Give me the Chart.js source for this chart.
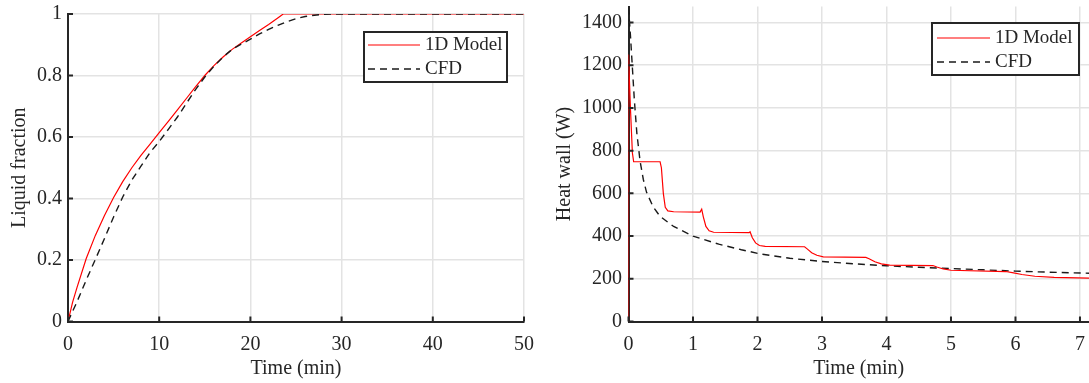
<!DOCTYPE html>
<html>
<head>
<meta charset="utf-8">
<script src="https://cdn.jsdelivr.net/npm/chart.js@4.4.1/dist/chart.umd.min.js"></script>
<style>
  html, body { margin: 0; padding: 0; background: #fff; overflow: hidden; }
  #wrap  { position: relative; width: 1089px; height: 383px; }
  .panel { position: absolute; top: 0; height: 383px; }
  #left  { left: 0;     width: 545px; }
  #right { left: 545px; width: 544px; }
</style>
</head>
<body>
<div id="wrap">
  <div class="panel" id="left"><canvas id="fracChart" width="545" height="383"></canvas></div>
  <div class="panel" id="right"><canvas id="heatChart" width="544" height="383"></canvas></div>
</div>
<script>
// ── Data: liquid fraction vs time ─────────────────────────────
const fracModelTime = [0, 0.5, 1, 2, 3, 4, 5, 6, 7, 8, 9, 10, 11, 12, 13, 14, 15, 16, 17, 18, 19, 20, 21, 22, 23, 23.6, 50];
const fracModel     = [0, 0.062, 0.112, 0.205, 0.28, 0.345, 0.403, 0.455, 0.5, 0.54, 0.577, 0.614, 0.651, 0.688, 0.726, 0.764, 0.8, 0.832, 0.86, 0.885, 0.906, 0.926, 0.946, 0.966, 0.987, 1, 1];
const fracCfdTime   = [0, 1, 2, 3, 4, 5, 6, 7, 8, 9, 10, 11, 12, 13, 14, 15, 16, 17, 18, 19, 20, 21, 22, 23, 24, 25, 26, 27, 28, 29.5, 50];
const fracCfd       = [0, 0.065, 0.135, 0.202, 0.27, 0.34, 0.405, 0.46, 0.505, 0.55, 0.585, 0.625, 0.665, 0.71, 0.755, 0.795, 0.83, 0.86, 0.885, 0.902, 0.918, 0.935, 0.95, 0.963, 0.975, 0.985, 0.992, 0.996, 0.999, 1, 1];
const fracXTicks    = [0, 10, 20, 30, 40, 50];
const fracYTicks    = [0, 0.2, 0.4, 0.6, 0.8, 1];

// ── Data: wall heat vs time ───────────────────────────────────
const heatModelTime = [0, 0, 0.03, 0.06, 0.08, 0.49, 0.51, 0.54, 0.57, 0.61, 0.7, 1.11, 1.135, 1.16, 1.2, 1.25, 1.32, 1.87, 1.885, 1.92, 1.97, 2.03, 2.12, 2.73, 2.77, 2.84, 2.92, 3.02, 3.68, 3.73, 3.82, 3.92, 4.05, 4.72, 4.78, 4.88, 5.0, 5.85, 5.95, 6.1, 6.3, 6.6, 7.14];
const heatModel     = [0, 1250, 1000, 790, 748, 748, 720, 600, 535, 518, 514, 512, 526, 490, 445, 425, 418, 416, 420, 392, 368, 356, 352, 350, 340, 322, 310, 303, 300, 294, 280, 270, 264, 262, 255, 246, 240, 234, 229, 220, 212, 207, 203];
const heatCfdTime   = [0, 0.03, 0.06, 0.09, 0.13, 0.18, 0.23, 0.28, 0.38, 0.49, 0.7, 1.0, 1.4, 1.75, 2.05, 2.5, 3.0, 3.5, 4.0, 4.5, 5.0, 5.5, 6.0, 6.5, 7.14];
const heatCfd       = [1470, 1340, 1190, 1040, 880, 750, 665, 605, 538, 492, 445, 400, 362, 336, 316, 296, 281, 270, 261, 254, 248, 242, 236, 231, 226];
const heatXTicks    = [0, 1, 2, 3, 4, 5, 6, 7];
const heatYTicks    = [0, 200, 400, 600, 800, 1000, 1200, 1400];

const seriesLabels  = ['1D Model', 'CFD'];

// ── Style ─────────────────────────────────────────────────────
const FONT       = "'Liberation Serif', 'Times New Roman', serif";
const AXIS_COLOR = '#262626';
const GRID_COLOR = '#e3e3e3';
const RED        = '#ff0000';
const DASH_COLOR = '#1a1a1a';

function points(xs, ys) {
  return xs.map((x, i) => ({ x, y: ys[i] }));
}

// MATLAB style tick marks pointing into the plot
const inwardTicks = {
  id: 'inwardTicks',
  afterDatasetsDraw(chart) {
    const { ctx, chartArea } = chart;
    const xs = chart.scales.x, ys = chart.scales.y;
    ctx.save();
    ctx.strokeStyle = AXIS_COLOR;
    ctx.lineWidth = 2;
    ctx.beginPath();
    xs.ticks.forEach(t => {
      const px = xs.getPixelForValue(t.value);
      ctx.moveTo(px, chartArea.bottom);
      ctx.lineTo(px, chartArea.bottom - 5);
    });
    ys.ticks.forEach(t => {
      const py = ys.getPixelForValue(t.value);
      ctx.moveTo(chartArea.left, py);
      ctx.lineTo(chartArea.left + 5, py);
    });
    ctx.stroke();
    ctx.restore();
  }
};

// Boxed legend drawn inside the plot area
const boxLegend = {
  id: 'boxLegend',
  afterDraw(chart, args, o) {
    const ctx = chart.ctx;
    ctx.save();
    ctx.fillStyle = '#fff';
    ctx.fillRect(o.x, o.y, o.w, o.h);
    ctx.strokeStyle = AXIS_COLOR;
    ctx.lineWidth = 2;
    ctx.strokeRect(o.x, o.y, o.w, o.h);
    ctx.font = '19px ' + FONT;
    ctx.textBaseline = 'middle';
    seriesLabels.forEach((label, i) => {
      const ds = chart.data.datasets.find(d => d.label === label);
      const ry = o.y + o.firstRow + i * o.rowGap;
      ctx.beginPath();
      ctx.strokeStyle = ds.borderColor;
      ctx.lineWidth = ds.borderWidth;
      ctx.setLineDash(ds.borderDash || []);
      ctx.moveTo(o.x + o.lineStart, ry);
      ctx.lineTo(o.x + o.lineEnd, ry);
      ctx.stroke();
      ctx.setLineDash([]);
      ctx.fillStyle = AXIS_COLOR;
      ctx.fillText(label, o.x + o.textX, ry);
    });
    ctx.restore();
  }
};

function axis(opts) {
  return {
    type: 'linear',
    min: opts.min,
    max: opts.max,
    border: { display: true, color: AXIS_COLOR, width: 2 },
    grid: { color: GRID_COLOR, lineWidth: 1.5, drawTicks: false },
    ticks: {
      color: AXIS_COLOR,
      font: { family: FONT, size: 20 },
      padding: opts.tickPad,
      maxRotation: 0,
      callback: v => String(v),
    },
    title: {
      display: true,
      text: opts.title,
      color: AXIS_COLOR,
      font: { family: FONT, size: 20 },
      padding: opts.titlePad,
    },
    afterBuildTicks: s => { s.ticks = opts.ticks.map(v => ({ value: v })); },
    afterFit: s => {
      if (opts.width)  s.width  = opts.width;
      if (opts.height) s.height = opts.height;
      s.paddingTop = s.paddingBottom = s.paddingLeft = s.paddingRight = 0;
    },
  };
}

function lineSet(label, data, dashed) {
  return {
    label,
    data,
    borderColor: dashed ? DASH_COLOR : RED,
    borderWidth: dashed ? 1.4 : 1.2,
    borderDash:  dashed ? [7, 5] : [],
    pointRadius: 0,
    tension: 0,
    fill: false,
  };
}

function baseOptions(scales, padding, legend) {
  return {
    responsive: false,
    animation: false,
    layout: { padding },
    plugins: { legend: { display: false }, tooltip: { enabled: false }, boxLegend: legend },
    scales,
  };
}

// ── Liquid fraction chart ─────────────────────────────────────
new Chart(document.getElementById('fracChart'), {
  type: 'line',
  data: {
    datasets: [
      lineSet('CFD', points(fracCfdTime, fracCfd), true),
      lineSet('1D Model', points(fracModelTime, fracModel), false),
    ],
  },
  options: baseOptions({
    x: axis({ min: 0, max: 50, ticks: fracXTicks, title: 'Time (min)', tickPad: 11,
              titlePad: { top: 0, bottom: 2 }, height: 61.5 }),
    y: axis({ min: 0, max: 1, ticks: fracYTicks, title: 'Liquid fraction', tickPad: 6,
              titlePad: { top: 8, bottom: 0 }, width: 68 }),
  }, { top: 14, right: 21, left: 0, bottom: 0 },
  { x: 364, y: 32, w: 143, h: 50, firstRow: 13, rowGap: 24, lineStart: 4, lineEnd: 56, textX: 61 }),
  plugins: [inwardTicks, boxLegend],
});

// ── Wall heat chart ───────────────────────────────────────────
new Chart(document.getElementById('heatChart'), {
  type: 'line',
  data: {
    datasets: [
      lineSet('1D Model', points(heatModelTime, heatModel), false),
      lineSet('CFD', points(heatCfdTime, heatCfd), true),
    ],
  },
  options: baseOptions({
    x: axis({ min: 0, max: 7.14, ticks: heatXTicks, title: 'Time (min)', tickPad: 11,
              titlePad: { top: 0, bottom: 2 }, height: 61.5 }),
    y: axis({ min: 0, max: 1475, ticks: heatYTicks, title: 'Heat wall (W)', tickPad: 6.5,
              titlePad: { top: 8, bottom: 0 }, width: 83.5 }),
  }, { top: 6.5, right: 0, left: 0, bottom: 0 },
  { x: 387, y: 23, w: 147, h: 52, firstRow: 15, rowGap: 24, lineStart: 5, lineEnd: 58, textX: 63 }),
  plugins: [inwardTicks, boxLegend],
});
</script>
</body>
</html>
